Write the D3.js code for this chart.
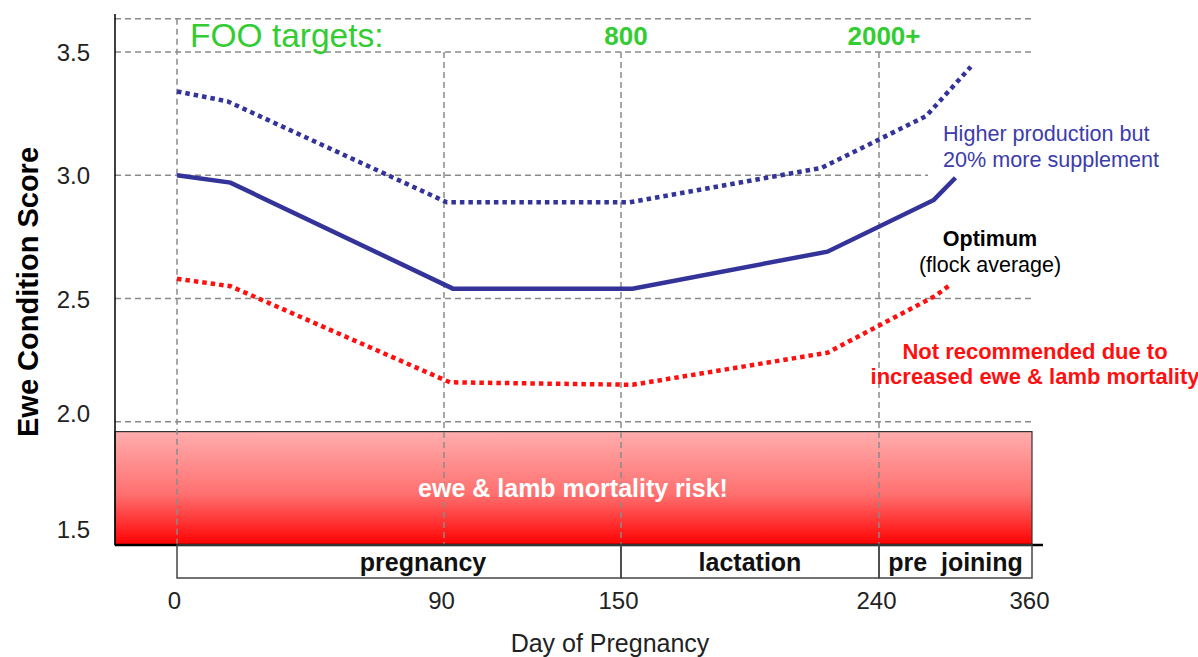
<!DOCTYPE html>
<html>
<head>
<meta charset="utf-8">
<script src="https://cdn.jsdelivr.net/npm/d3@7"></script>
<style>
  body { margin: 0; background: #fff; }
  svg { font-family: "Liberation Sans", Arial, Helvetica, sans-serif; }
</style>
</head>
<body>
<svg id="chart" width="1198" height="657"></svg>
<script>
// Data
const dayTicks = [0, 90, 150, 240, 360]
const scoreTicks = [1.5, 2.0, 2.5, 3.0, 3.5]

const optimumDays = [0, 18, 93, 154, 222, 283, 300]
const optimumScores = [3.00, 2.97, 2.54, 2.54, 2.69, 2.90, 2.99]

const higherDays = [0, 17, 91, 153, 220, 277, 312]
const higherScores = [3.34, 3.30, 2.89, 2.89, 3.03, 3.24, 3.44]

const riskyDays = [0, 18, 92, 154, 222, 284, 297]
const riskyScores = [2.58, 2.55, 2.16, 2.15, 2.28, 2.51, 2.56]

const phaseNames = ['pregnancy', 'lactation', 'pre  joining']
const phaseStarts = [0, 150, 240]
const phaseEnds = [150, 240, 360]

const fooLabels = ['800', '2000+']
const fooDays = [150, 240]

const riskLimit = 1.96
const topScore = 3.635

const svg = d3.select('#chart')
const left = 115
const font = '"Liberation Sans", Arial, Helvetica, sans-serif'

// The day axis is not linear in the original: each segment has its own width
const x = d3.scaleLinear().domain(dayTicks).range([177, 444, 621, 879, 1032])
const y = d3.scaleLinear().domain([1.5, 3.5]).range([545, 52])

const navy = '#333399'
const grid = '#8a8a8a'

// Red gradient for the mortality risk zone
const defs = svg.append('defs')
const grad = defs.append('linearGradient').attr('id', 'risk').attr('x1', 0).attr('y1', 0).attr('x2', 0).attr('y2', 1)
grad.append('stop').attr('offset', '0%').attr('stop-color', '#ffadad')
grad.append('stop').attr('offset', '55%').attr('stop-color', '#ff7070')
grad.append('stop').attr('offset', '100%').attr('stop-color', '#ff0000')

svg.append('rect')
  .attr('x', left).attr('y', y(riskLimit))
  .attr('width', x(360) - left).attr('height', y(1.5) - y(riskLimit))
  .attr('fill', 'url(#risk)')
  .attr('stroke', '#333').attr('stroke-width', 1.2)

// Horizontal dashed grid (3.0 line stops short, before the annotation)
const hLines = [topScore, 3.5, 3.0, 2.5, 2.0]
svg.append('g').selectAll('line').data(hLines).enter().append('line')
  .attr('x1', left)
  .attr('x2', d => d === 3.0 ? 928 : 1035)
  .attr('y1', d => y(d)).attr('y2', d => y(d))
  .attr('stroke', grid).attr('stroke-width', 1.5).attr('stroke-dasharray', '6,4')

// Vertical dashed grid
svg.append('g').selectAll('line').data(dayTicks.slice(0, 4)).enter().append('line')
  .attr('x1', d => x(d)).attr('x2', d => x(d))
  .attr('y1', d => d === 0 ? y(topScore) : y(3.5))
  .attr('y2', y(1.5))
  .attr('stroke', grid).attr('stroke-width', 1.5).attr('stroke-dasharray', '6,4')

// Axis lines
svg.append('line').attr('x1', left).attr('x2', left).attr('y1', 14).attr('y2', y(1.5))
  .attr('stroke', '#000').attr('stroke-width', 1.5)
svg.append('line').attr('x1', left).attr('x2', 1043).attr('y1', y(1.5)).attr('y2', y(1.5))
  .attr('stroke', '#000').attr('stroke-width', 2.5)

// Y tick labels
const yAxis = svg.append('g')
  .attr('transform', `translate(${left - 22},0)`)
  .call(d3.axisLeft(y).tickValues(scoreTicks).tickFormat(d3.format('.1f')).tickSize(0))
yAxis.select('.domain').remove()
yAxis.attr('font-size', 24).attr('font-family', font)
yAxis.selectAll('text').attr('fill', '#222')
  .attr('dy', d => d === 1.5 ? '-0.3em' : (d === 2.0 ? '0' : '0.36em'))

// X tick labels
const xAxis = svg.append('g')
  .attr('transform', 'translate(-3,599)')
  .call(d3.axisBottom(x).tickValues(dayTicks).tickFormat(d3.format('d')).tickSize(0))
xAxis.select('.domain').remove()
xAxis.attr('font-size', 24).attr('font-family', font)
xAxis.selectAll('text').attr('fill', '#222').attr('dy', '0.3em')

// Phase boxes under the axis
const phases = phaseNames.map((n, i) => ({ name: n, start: phaseStarts[i], end: phaseEnds[i] }))
const labelShift = { pregnancy: 24 }
const pg = svg.append('g')
pg.selectAll('rect').data(phases).enter().append('rect')
  .attr('x', d => x(d.start)).attr('y', y(1.5))
  .attr('width', d => x(d.end) - x(d.start)).attr('height', 33)
  .attr('fill', 'none').attr('stroke', '#444').attr('stroke-width', 1.5)
pg.selectAll('text').data(phases).enter().append('text')
  .attr('x', d => (x(d.start) + x(d.end)) / 2 + (labelShift[d.name] || 0))
  .attr('y', y(1.5) + 26)
  .attr('text-anchor', 'middle')
  .attr('font-size', 25).attr('font-weight', 'bold').attr('fill', '#111')
  .style('white-space', 'pre')
  .text(d => d.name)

// Condition score lines
const line = d3.line().x(d => x(d[0])).y(d => y(d[1]))
const series = [
  { days: riskyDays, scores: riskyScores, color: '#ff1010', dash: '4.5,4' },
  { days: higherDays, scores: higherScores, color: navy, dash: '4.5,4' },
  { days: optimumDays, scores: optimumScores, color: navy, dash: null }
]
svg.append('g').selectAll('path').data(series).enter().append('path')
  .attr('d', s => line(s.days.map((d, i) => [d, s.scores[i]])))
  .attr('fill', 'none')
  .attr('stroke', s => s.color)
  .attr('stroke-width', 4.5)
  .attr('stroke-dasharray', s => s.dash)

// FOO targets
svg.append('text').attr('x', 190).attr('y', 47)
  .attr('font-size', 33.5).attr('fill', '#33cc33').text('FOO targets:')
svg.append('g').selectAll('text').data(fooLabels).enter().append('text')
  .attr('x', (d, i) => x(fooDays[i]) + 5).attr('y', 45)
  .attr('text-anchor', 'middle')
  .attr('font-size', 26).attr('font-weight', 'bold').attr('fill', '#33cc33')
  .text(d => d)

// Annotations
svg.append('text').attr('x', 943).attr('y', 141).attr('font-size', 21.6).attr('fill', '#3c3cab')
  .text('Higher production but')
svg.append('text').attr('x', 943).attr('y', 167).attr('font-size', 21.6).attr('fill', '#3c3cab')
  .text('20% more supplement')
svg.append('text').attr('x', 990).attr('y', 246).attr('text-anchor', 'middle')
  .attr('font-size', 21.5).attr('font-weight', 'bold').attr('fill', '#000').text('Optimum')
svg.append('text').attr('x', 990).attr('y', 272).attr('text-anchor', 'middle')
  .attr('font-size', 21.5).attr('fill', '#000').text('(flock average)')
svg.append('text').attr('x', 1035).attr('y', 359).attr('text-anchor', 'middle')
  .attr('font-size', 22).attr('font-weight', 'bold').attr('fill', '#ff1010').text('Not recommended due to')
svg.append('text').attr('x', 1035).attr('y', 384).attr('text-anchor', 'middle')
  .attr('font-size', 22).attr('font-weight', 'bold').attr('fill', '#ff1010').text('increased ewe & lamb mortality')
svg.append('text').attr('x', 573).attr('y', 497).attr('text-anchor', 'middle')
  .attr('font-size', 25).attr('font-weight', 'bold').attr('fill', '#fff').text('ewe & lamb mortality risk!')

// Axis titles
svg.append('text').attr('x', 610).attr('y', 652).attr('text-anchor', 'middle')
  .attr('font-size', 25).attr('fill', '#222').text('Day of Pregnancy')
svg.append('text').attr('transform', 'translate(38,292) rotate(-90)').attr('text-anchor', 'middle')
  .attr('font-size', 29).attr('font-weight', 'bold').attr('fill', '#000').text('Ewe Condition Score')
</script>
</body>
</html>
